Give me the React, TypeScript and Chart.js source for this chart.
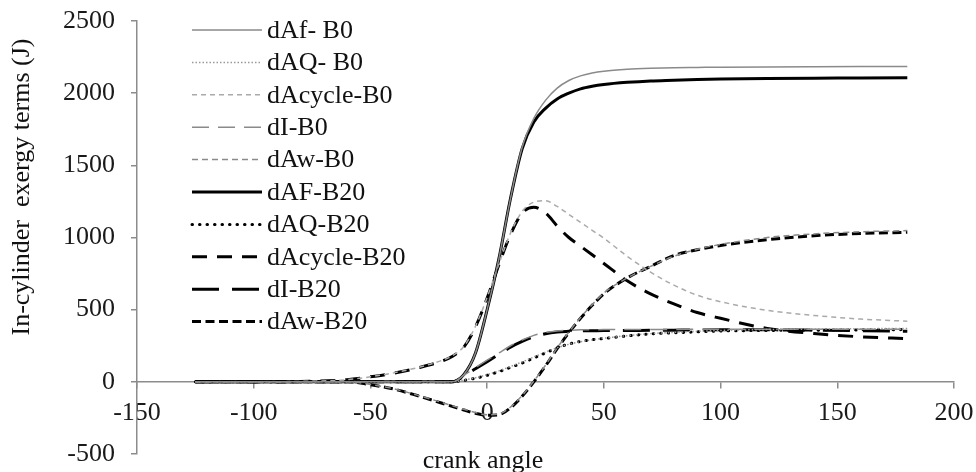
import React, { useEffect, useRef } from "react";
import { Chart, registerables } from "chart.js";

Chart.register(...registerables);

const angles = [-125, -100, -80, -60, -50, -40, -30, -20, -15, -10, -5, 0, 5, 10, 15, 20, 25, 30, 35, 40, 45, 50, 60, 70, 80, 90, 100, 120, 140, 160, 180];

const dAfB0 = [0, 0, 0, 0, 0, 0, 0, 0, 0, 50, 200, 500, 850, 1270, 1625, 1825, 1950, 2035, 2088, 2120, 2140, 2152, 2165, 2172, 2176, 2178, 2180, 2182, 2183, 2184, 2185];
const dAQB0 = [0, 0, 0, 0, 0, 0, 0, 0, 0, 12, 28, 50, 76, 106, 138, 172, 205, 236, 260, 278, 291, 302, 320, 334, 343, 350, 356, 362, 366, 368, 370];
const dAcycleB0 = [0, 0, 3, 15, 35, 62, 98, 145, 180, 245, 385, 585, 815, 1030, 1180, 1245, 1255, 1215, 1160, 1105, 1050, 995, 870, 760, 670, 600, 555, 495, 460, 435, 420];
const dIB0 = [0, 0, 0, 0, 0, 0, 0, 0, 0, 45, 98, 150, 200, 250, 290, 322, 342, 352, 357, 360, 361, 362, 362, 363, 363, 364, 365, 365, 365, 365, 365];
const dAwB0 = [0, 0, 0, 0, -18, -48, -92, -140, -165, -190, -212, -228, -222, -175, -95, 5, 115, 235, 345, 445, 535, 615, 720, 800, 870, 918, 952, 1000, 1025, 1040, 1048];
const dAFB20 = [0, 0, 0, 0, 0, 0, 0, 0, 0, 50, 200, 500, 850, 1270, 1615, 1800, 1895, 1960, 2000, 2030, 2048, 2060, 2075, 2085, 2090, 2095, 2098, 2102, 2104, 2105, 2106];
const dAQB20 = [0, 0, 0, 0, 0, 0, 0, 0, 0, 10, 25, 45, 70, 100, 130, 165, 200, 235, 262, 280, 292, 300, 318, 332, 340, 346, 352, 356, 358, 360, 362];
const dAcycleB20 = [0, 0, 3, 15, 35, 60, 95, 140, 175, 240, 380, 580, 810, 1020, 1170, 1210, 1170, 1080, 1000, 940, 880, 820, 700, 610, 540, 480, 440, 370, 335, 312, 300];
const dIB20 = [0, 0, 0, 0, 0, 0, 0, 0, 0, 40, 90, 140, 190, 240, 280, 312, 333, 345, 350, 353, 354, 355, 356, 357, 358, 359, 360, 360, 358, 354, 350];
const dAwB20 = [0, 0, 0, 0, -20, -50, -95, -145, -170, -195, -218, -232, -228, -180, -100, 0, 110, 230, 340, 440, 530, 610, 720, 800, 875, 915, 945, 985, 1012, 1028, 1036];

const seriesLabels = ["dAf- B0", "dAQ- B0", "dAcycle-B0", "dI-B0", "dAw-B0", "dAF-B20", "dAQ-B20", "dAcycle-B20", "dI-B20", "dAw-B20"];
const seriesValues = [dAfB0, dAQB0, dAcycleB0, dIB0, dAwB0, dAFB20, dAQB20, dAcycleB20, dIB20, dAwB20];

const styles = [
  { color: "#8a8a8a", width: 1.5, dash: [] as number[], cap: "butt" },
  { color: "#9a9a9a", width: 1.5, dash: [1.5, 2], cap: "butt" },
  { color: "#aaaaaa", width: 1.5, dash: [5, 4], cap: "butt" },
  { color: "#8a8a8a", width: 1.5, dash: [17, 9], cap: "butt" },
  { color: "#8a8a8a", width: 1.5, dash: [6, 4], cap: "butt" },
  { color: "#000000", width: 3, dash: [] as number[], cap: "butt" },
  { color: "#000000", width: 3, dash: [0.5, 7], cap: "round" },
  { color: "#000000", width: 3, dash: [15, 10], cap: "butt" },
  { color: "#000000", width: 3, dash: [27, 13], cap: "butt" },
  { color: "#000000", width: 3, dash: [9, 4.5], cap: "butt" },
];

const FONT = "'Liberation Serif', 'Times New Roman', serif";
const FS = 26;
const yTitle = "In-cylinder  exergy terms (J)";
const xTitle = "crank angle";

const overlayPlugin = {
  id: "overlay",
  afterDraw(chart: any) {
    const ctx = chart.ctx as CanvasRenderingContext2D;
    ctx.save();
    chart.data.datasets.forEach((ds: any, i: number) => {
      const y = 30 + i * 32.4;
      ctx.save();
      ctx.beginPath();
      ctx.strokeStyle = ds.borderColor;
      ctx.lineWidth = ds.borderWidth;
      ctx.setLineDash(ds.borderDash || []);
      ctx.lineCap = ds.borderCapStyle || "butt";
      ctx.moveTo(192, y);
      ctx.lineTo(262, y);
      ctx.stroke();
      ctx.restore();
      ctx.fillStyle = "#111";
      ctx.font = `${FS}px ${FONT}`;
      ctx.textAlign = "left";
      ctx.textBaseline = "middle";
      ctx.fillText(ds.label, 267, y + 1);
    });
    ctx.fillStyle = "#111";
    ctx.font = `${FS}px ${FONT}`;
    ctx.textAlign = "center";
    ctx.textBaseline = "middle";
    ctx.fillText(xTitle, 483, 461);
    ctx.translate(22, 187);
    ctx.rotate(-Math.PI / 2);
    ctx.fillText(yTitle, 0, 0);
    ctx.restore();
  },
};

export default function App() {
  const ref = useRef<HTMLCanvasElement | null>(null);
  useEffect(() => {
    if (!ref.current) return;
    const chart = new Chart(ref.current, {
      type: "line",
      data: {
        labels: angles,
        datasets: seriesValues.map((vals, i) => ({
          label: seriesLabels[i],
          data: vals.map((v, j) => ({ x: angles[j], y: v })),
          borderColor: styles[i].color,
          backgroundColor: styles[i].color,
          borderWidth: styles[i].width,
          borderDash: styles[i].dash,
          borderCapStyle: styles[i].cap as any,
          pointRadius: 0,
          fill: false,
          cubicInterpolationMode: "monotone" as const,
        })),
      },
      options: {
        animation: false,
        responsive: false,
        events: [],
        layout: { padding: { top: 21, right: 22, bottom: 18, left: 0 } },
        plugins: { legend: { display: false }, tooltip: { enabled: false } },
        scales: {
          x: {
            type: "linear",
            position: { y: 0 } as any,
            min: -150,
            max: 200,
            ticks: { stepSize: 50, padding: 10, color: "#1a1a1a", font: { family: FONT, size: FS }, callback: (v: any) => String(v) },
            grid: { display: true, drawOnChartArea: false, drawTicks: true, tickLength: 6, color: "#8c8c8c", lineWidth: 1.5 },
            border: { display: true, color: "#8c8c8c", width: 1.5 },
            afterFit(scale: any) {
              scale.height = 0;
              scale.paddingLeft = 0;
              scale.paddingRight = 0;
            },
          },
          y: {
            type: "linear",
            position: "left",
            min: -500,
            max: 2500,
            ticks: { stepSize: 500, padding: 16, color: "#1a1a1a", font: { family: FONT, size: FS }, callback: (v: any) => String(v) },
            grid: { display: true, drawOnChartArea: false, drawTicks: true, tickLength: 6, color: "#8c8c8c", lineWidth: 1.5 },
            border: { display: true, color: "#8c8c8c", width: 1.5 },
            afterFit(scale: any) {
              scale.width = 137;
              scale.paddingTop = 0;
              scale.paddingBottom = 0;
            },
          },
        },
      },
      plugins: [overlayPlugin],
    });
    return () => chart.destroy();
  }, []);
  return (
    <div style={{ position: "absolute", left: 0, top: 0, width: 976, height: 472, background: "#fff" }}>
      <canvas ref={ref} width={976} height={472} style={{ width: 976, height: 472, display: "block" }} />
    </div>
  );
}
